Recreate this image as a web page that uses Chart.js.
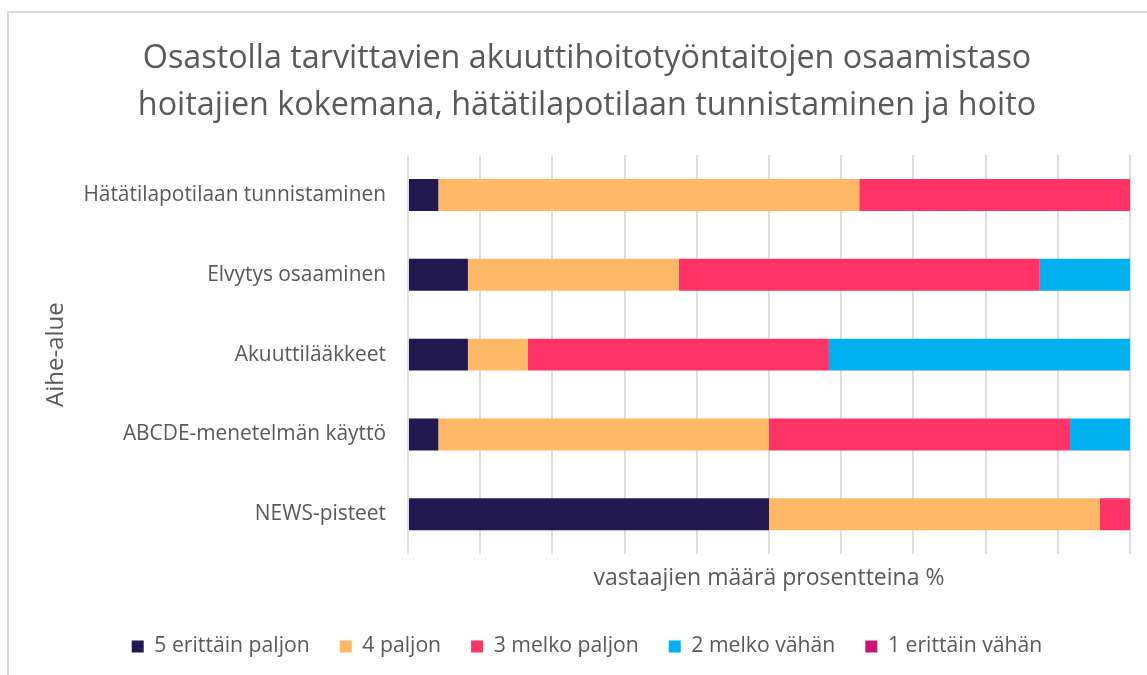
<!DOCTYPE html>
<html>
<head>
<meta charset="utf-8">
<script src="https://cdn.jsdelivr.net/npm/chart.js@4"></script>
<style>
  html, body { margin: 0; padding: 0; background: #fff; }
  #wrap { width: 1147px; height: 675px; position: relative; }
</style>
</head>
<body>
<div id="wrap"><canvas id="chart" width="1147" height="675"></canvas></div>
<script>
const categories = [
    'Hätätilapotilaan tunnistaminen',
    'Elvytys osaaminen',
    'Akuuttilääkkeet',
    'ABCDE-menetelmän käyttö',
    'NEWS-pisteet',
];
const seriesNames = ['5 erittäin paljon', '4 paljon', '3 melko paljon', '2 melko vähän', '1 erittäin vähän'];
// prosentit (n = 24)
const erittainPaljon = [4.2, 8.3, 8.3, 4.2, 50.0];
const paljon = [58.3, 29.2, 8.3, 45.8, 45.8];
const melkoPaljon = [37.5, 50.0, 41.7, 41.7, 4.2];
const melkoVahan = [0, 12.5, 41.7, 8.3, 0];
const erittainVahan = [0, 0, 0, 0, 0];
const colors = ['#211950', '#FFB966', '#FF3366', '#00B0F0', '#CC1177'];

const textColor = '#595959';
const fontFamily = '"Open Sans", sans-serif';

const frame = {
    id: 'frame',
    beforeDraw: (chart) => {
        const c = chart.ctx;
        c.save();
        c.strokeStyle = '#D9D9D9';
        c.lineWidth = 2;
        c.beginPath();
        c.moveTo(8, 700);
        c.lineTo(8, 12);
        c.lineTo(1160, 12);
        c.stroke();
        c.restore();
    },
};

const values = [erittainPaljon, paljon, melkoPaljon, melkoVahan, erittainVahan];

new Chart(document.getElementById('chart'), {
    type: 'bar',
    data: {
        labels: categories,
        datasets: seriesNames.map((name, i) => ({
            label: name,
            data: values[i],
            backgroundColor: colors[i],
            barPercentage: 0.4,
            categoryPercentage: 1,
        })),
    },
    plugins: [frame],
    options: {
        indexAxis: 'y',
        responsive: false,
        animation: false,
        layout: { padding: { left: 44, right: 17, top: 0, bottom: 8 } },
        plugins: {
            title: {
                display: true,
                text: ['Osastolla tarvittavien akuuttihoitotyöntaitojen osaamistaso', 'hoitajien kokemana, hätätilapotilaan tunnistaminen ja hoito'],
                color: textColor,
                font: { family: fontFamily, size: 32.3, weight: 'normal', lineHeight: 1.455 },
                padding: { top: 35, bottom: 26 },
            },
            legend: {
                position: 'bottom',
                labels: {
                    color: textColor,
                    font: { family: fontFamily, size: 21.2 },
                    boxWidth: 12,
                    boxHeight: 12,
                    padding: 30,
                },
            },
            tooltip: { enabled: false },
        },
        scales: {
            x: {
                stacked: true,
                min: 0,
                max: 100,
                ticks: { display: false, stepSize: 10 },
                grid: { color: '#DEDEDE', lineWidth: 2, drawTicks: false },
                border: { display: false },
                title: {
                    display: true,
                    text: 'vastaajien määrä prosentteina %',
                    color: textColor,
                    font: { family: fontFamily, size: 23, lineHeight: 1.2 },
                    padding: { top: 10, bottom: 14 },
                },
            },
            y: {
                stacked: true,
                grid: { display: false, drawTicks: false },
                border: { display: false },
                ticks: {
                    color: textColor,
                    font: { family: fontFamily, size: 20.9 },
                    padding: 22,
                },
                title: {
                    display: true,
                    text: 'Aihe-alue',
                    color: textColor,
                    font: { family: fontFamily, size: 24, lineHeight: 1.2 },
                    padding: { top: -2.4, bottom: 0 },
                },
                afterFit: (scale) => { scale.width = 364; },
            },
        },
    },
});
</script>
</body>
</html>
